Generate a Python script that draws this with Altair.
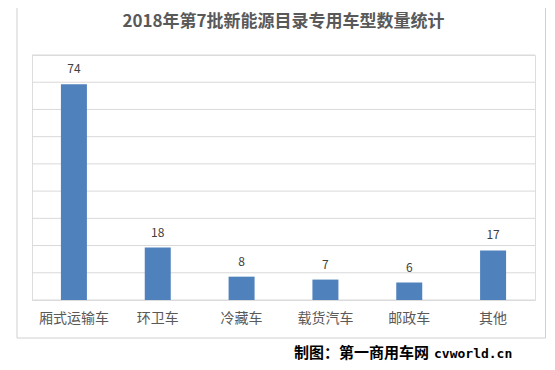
import altair as alt
import pandas as pd

TITLE = "2018年第7批新能源目录专用车型数量统计"
categories = ["厢式运输车", "环卫车", "冷藏车", "载货汽车", "邮政车", "其他"]
values = [74, 18, 8, 7, 6, 17]
FOOTER_CN = "制图：第一商用车网"
FOOTER_EN = "cvworld.cn"

Y_MAX = 84
grid_values = [i * Y_MAX / 9 for i in range(10)]

df = pd.DataFrame({"cat": categories, "val": values})
grid_df = pd.DataFrame({"g": grid_values})

W, H = 503, 245
CJK = "Noto Sans CJK SC"

x_enc = alt.X("cat:N", sort=categories, title=None,
              scale=alt.Scale(paddingInner=0, paddingOuter=0),
              axis=alt.Axis(labelAngle=0, ticks=False, domain=False, labelPadding=11,
                            labelFontSize=14, labelFont=CJK, labelColor="#595959",
                            grid=False))
y_scale = alt.Scale(domain=[0, Y_MAX], nice=False)
y_enc = alt.Y("val:Q", title=None, scale=y_scale, axis=None)

grid = alt.Chart(grid_df).mark_rule(color="#d9d9d9", strokeWidth=1).encode(
    y=alt.Y("g:Q", scale=y_scale, axis=None))
bars = alt.Chart(df).mark_bar(color="#4f81bd", size=26).encode(x=x_enc, y=y_enc)
labels = alt.Chart(df).mark_text(dy=-15, baseline="middle", fontSize=12, font=CJK,
                                 color="#404040").encode(
    x=alt.X("cat:N", sort=categories), y="val:Q", text="val:Q")

one = alt.Data(values=[{"a": 1}])
border = alt.Chart(one).mark_rect(fill=None, stroke="#d0d0d0", strokeWidth=1).encode(
    x=alt.value(-15), x2=alt.value(513.5), y=alt.value(-51), y2=alt.value(283))
title = alt.Chart(one).mark_text(text=TITLE, font=CJK, fontWeight="bold", fontSize=17,
                                 color="#595959", align="center",
                                 baseline="middle").encode(
    x=alt.value(W / 2), y=alt.value(-33))
foot_cn = alt.Chart(one).mark_text(text=FOOTER_CN, font=CJK, fontWeight="bold",
                                   fontSize=15, color="#000000", align="left",
                                   baseline="middle").encode(
    x=alt.value(262), y=alt.value(298))
foot_en = alt.Chart(one).mark_text(text=FOOTER_EN, font="DejaVu Sans Mono",
                                   fontWeight="bold", fontSize=13, color="#000000",
                                   align="left", baseline="middle").encode(
    x=alt.value(402), y=alt.value(299))

chart = alt.layer(border, grid, bars, labels, title, foot_cn, foot_en).properties(
    width=W, height=H,
    autosize=alt.AutoSizeParams(type="none"),
    padding={"left": 24, "top": 47, "right": 12, "bottom": 62},
).configure_view(stroke=None).configure(background="white")

chart.save("out.html", embed_options={"renderer": "svg", "actions": False})
